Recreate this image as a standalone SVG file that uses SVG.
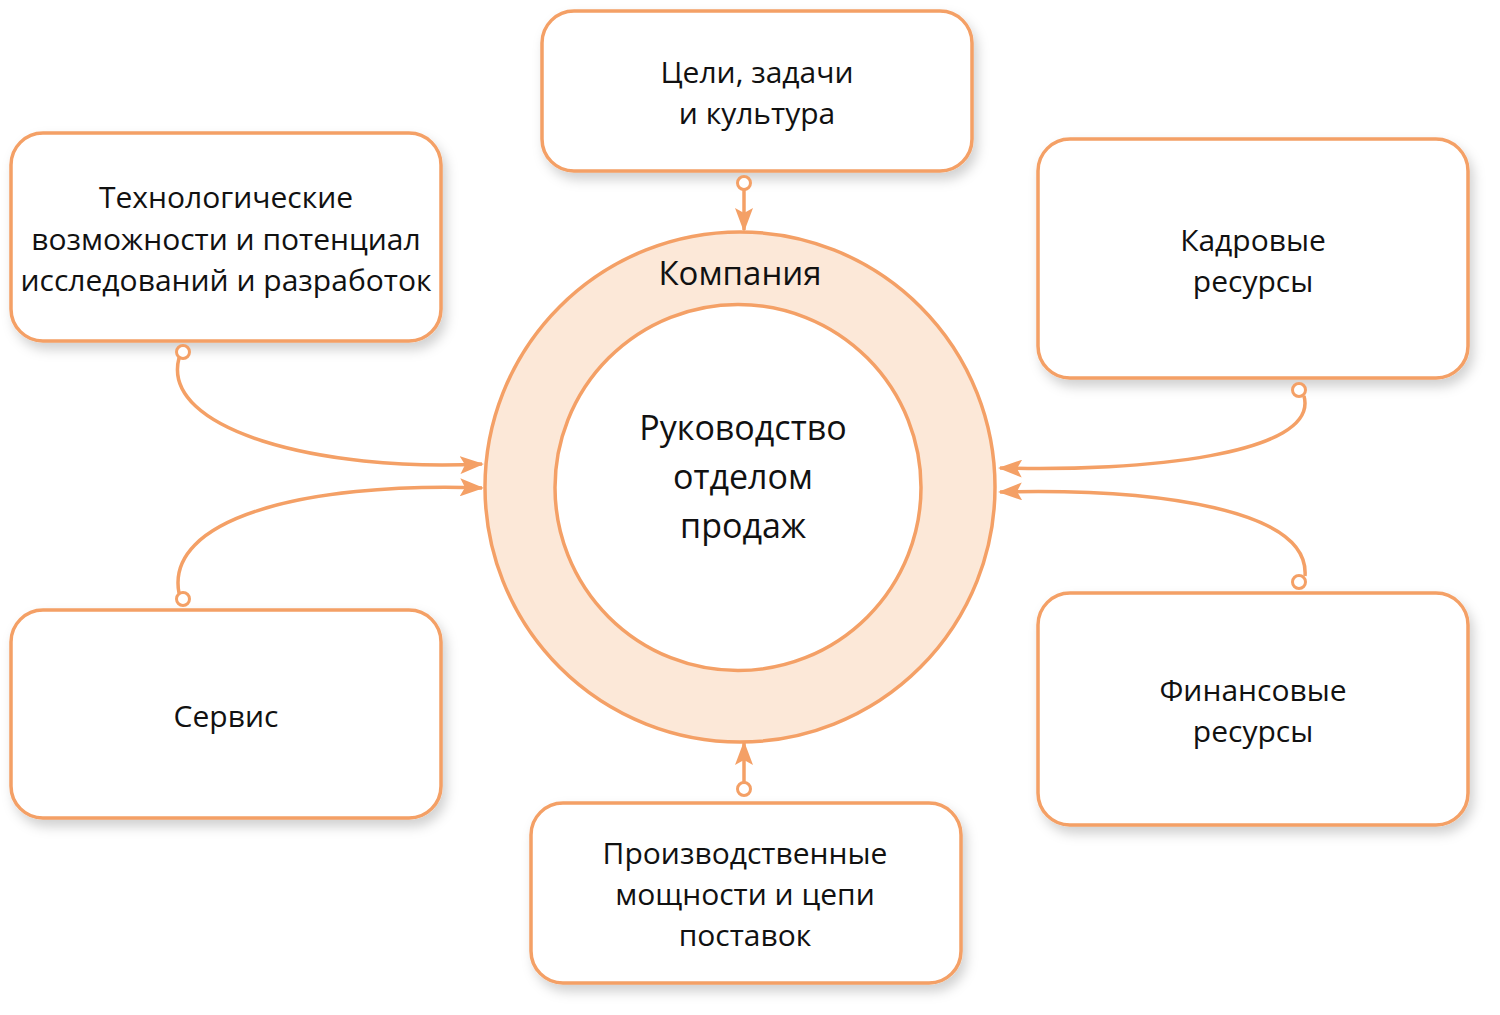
<svg xmlns="http://www.w3.org/2000/svg" width="1500" height="1015" viewBox="0 0 1500 1015">
<style>
.box{fill:#fff;stroke:#F4A066;stroke-width:3.5;filter:url(#sh)}
.t{font-family:"Open Sans","Noto Sans",sans-serif;font-size:30px;fill:#111;text-anchor:middle}
.c{fill:none;stroke:#F4A066;stroke-width:3.5}
.dot{fill:#fff;stroke:#F4A066;stroke-width:3}
</style>
<defs>
<filter id="sh" x="-10%" y="-10%" width="125%" height="130%">
<feDropShadow dx="4" dy="7" stdDeviation="6" flood-color="#000" flood-opacity="0.18"/>
</filter>
<marker id="ah" viewBox="0 0 24 18" refX="22" refY="9" markerWidth="24" markerHeight="18" markerUnits="userSpaceOnUse" orient="auto">
<path d="M0,0 L24,9 L0,18 L5,9 Z" fill="#F4A066"/>
</marker>
</defs>
<rect width="1500" height="1015" fill="#fff"/>
<g id="company">
<circle cx="740" cy="487" r="255" fill="#FCE8D8" stroke="#F4A066" stroke-width="3.5"/>
<circle cx="738" cy="487.5" r="183" fill="#fff" stroke="#F4A066" stroke-width="3.5"/>
<text class="t" x="740" y="285" style="font-size:33px">Компания</text>
<text class="t" x="743" y="440" style="font-size:34px">Руководство</text>
<text class="t" x="743" y="489" style="font-size:34px">отделом</text>
<text class="t" x="743" y="538" style="font-size:34px">продаж</text>
</g>
<g id="goals">
<rect class="box" x="542" y="11" width="430" height="160" rx="32"/>
<text class="t" x="757" y="83">Цели, задачи</text>
<text class="t" x="757" y="124">и культура</text>
</g>
<g id="tech">
<rect class="box" x="11" y="133" width="430" height="208" rx="32"/>
<text class="t" x="226" y="208">Технологические</text>
<text class="t" x="226" y="250">возможности и потенциал</text>
<text class="t" x="226" y="291">исследований и разработок</text>
</g>
<g id="hr">
<rect class="box" x="1038" y="139" width="430" height="239" rx="32"/>
<text class="t" x="1253" y="251">Кадровые</text>
<text class="t" x="1253" y="292">ресурсы</text>
</g>
<g id="service">
<rect class="box" x="11" y="610" width="430" height="208" rx="32"/>
<text class="t" x="226" y="727">Сервис</text>
</g>
<g id="finance">
<rect class="box" x="1038" y="593" width="430" height="232" rx="32"/>
<text class="t" x="1253" y="701">Финансовые</text>
<text class="t" x="1253" y="742">ресурсы</text>
</g>
<g id="production">
<rect class="box" x="531" y="803" width="430" height="180" rx="32"/>
<text class="t" x="745" y="864">Производственные</text>
<text class="t" x="745" y="905">мощности и цепи</text>
<text class="t" x="745" y="946">поставок</text>
</g>
<g id="connectors">
<path class="c" d="M744,189 L744,230" marker-end="url(#ah)"/>
<circle class="dot" cx="744" cy="183" r="6.5"/>
<path class="c" d="M744,783 L744,743" marker-end="url(#ah)"/>
<circle class="dot" cx="744" cy="789" r="6.5"/>
<path class="c" d="M179,358 C160,430 320,472 482,464" marker-end="url(#ah)"/>
<circle class="dot" cx="183" cy="352" r="6.5"/>
<path class="c" d="M179,593 C165,520 300,482 482,488" marker-end="url(#ah)"/>
<circle class="dot" cx="183" cy="599" r="6.5"/>
<path class="c" d="M1304,396 C1320,455 1140,472 1000,468" marker-end="url(#ah)"/>
<circle class="dot" cx="1299" cy="390" r="6.5"/>
<path class="c" d="M1305,576 C1310,510 1160,488 1000,492" marker-end="url(#ah)"/>
<circle class="dot" cx="1299" cy="582" r="6.5"/>
</g>
</svg>
